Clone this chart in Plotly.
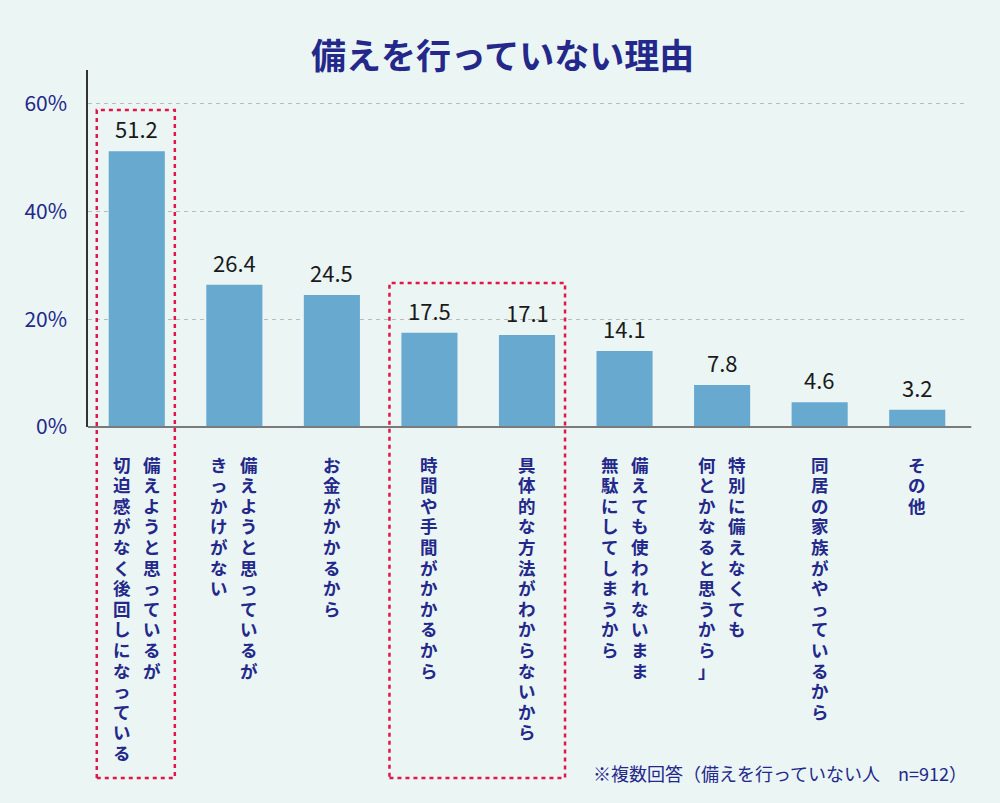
import plotly.graph_objects as go

# ---- data ----
title = "備えを行っていない理由"
label_lines = [
    ["備えようと思っているが", "切迫感がなく後回しになっている"],
    ["備えようと思っているが", "きっかけがない"],
    ["お金がかかるから"],
    ["時間や手間がかかるから"],
    ["具体的な方法がわからないから"],
    ["備えても使われないまま", "無駄にしてしまうから"],
    ["特別に備えなくても", "何とかなると思うから」"],
    ["同居の家族がやっているから"],
    ["その他"],
]
values = [51.2, 26.4, 24.5, 17.5, 17.1, 14.1, 7.8, 4.6, 3.2]
tick_vals = [0, 20, 40, 60]
tick_text = ["0%", "20%", "40%", "60%"]
footnote = "※複数回答（備えを行っていない人　n=912）"
highlight_groups = [[0], [3, 4]]

categories = ["".join(l) for l in label_lines]

# ---- style ----
BG = "#eaf5f4"
NAVY = "#23288a"
BAR = "#68a9d0"
RED = "#e0174a"
FONT = "Noto Sans CJK JP"
PLOT_TOP, PLOT_BOTTOM = 70, 427
PLOT_H = PLOT_BOTTOM - PLOT_TOP
BOX_TOPS_PX = [110, 283]      # top edge of highlight boxes (px)
BOX_BOTTOM_PX = 778
CHAR_STEP = 20.6              # vertical text character pitch (px)
FIRST_CHAR_OFFSET = 37        # px below the baseline to first char center
COL_GAP = 30

def py_to_paper(py):
    return (PLOT_BOTTOM - py) / PLOT_H

fig = go.Figure()
fig.add_trace(go.Bar(
    x=categories, y=values, marker=dict(color=BAR, line=dict(width=0)),
    width=0.575, hoverinfo="skip", showlegend=False,
))

annotations = []
# value labels
for c, v in zip(categories, values):
    annotations.append(dict(
        x=c, y=v, xref="x", yref="y", text=f"{v:.1f}", showarrow=False,
        yanchor="middle", yshift=23,
        font=dict(family=FONT, size=22, color="#1a1a1a"),
    ))

# vertical category labels (right column first), one character per annotation
for i, lines in enumerate(label_lines):
    n = len(lines)
    for j, line in enumerate(lines):
        offset = (n - 1) / 2 * COL_GAP - j * COL_GAP
        for k, ch in enumerate(line):
            annotations.append(dict(
                x=i, y=0, xref="x", yref="paper", xshift=offset,
                yshift=-(FIRST_CHAR_OFFSET + CHAR_STEP * k),
                text=ch, showarrow=False, borderpad=0,
                xanchor="center", yanchor="middle", align="center",
                font=dict(family=FONT, size=17.5, color=NAVY, weight="bold"),
            ))

# title
annotations.append(dict(
    x=0.4725, y=1.0, xref="paper", yref="paper", yshift=PLOT_TOP - 53,
    text=f"<b>{title}</b>", showarrow=False, xanchor="center", yanchor="middle",
    font=dict(family=FONT, size=35, color=NAVY),
))
# footnote
annotations.append(dict(
    x=1.0, y=0, xref="paper", yref="paper", xshift=3, yshift=PLOT_BOTTOM - 773,
    text=footnote, showarrow=False, xanchor="right", yanchor="middle",
    font=dict(family=FONT, size=18, color=NAVY),
))

shapes = []
# baseline
shapes.append(dict(type="line", xref="paper", yref="paper", x0=0, x1=1.006,
                   y0=0, y1=0, line=dict(color="#7a7a7a", width=2), layer="above"))
# highlight boxes
for g, top_px in zip(highlight_groups, BOX_TOPS_PX):
    shapes.append(dict(
        type="rect", xref="x", yref="paper",
        x0=min(g) - 0.41, x1=max(g) + 0.39,
        y0=py_to_paper(BOX_BOTTOM_PX), y1=py_to_paper(top_px),
        line=dict(color=RED, width=2.5, dash="4px,4px"), fillcolor="rgba(0,0,0,0)",
        layer="above",
    ))

fig.update_layout(
    width=1000, height=803,
    paper_bgcolor=BG, plot_bgcolor=BG,
    margin=dict(l=88, r=34, t=PLOT_TOP, b=803 - PLOT_BOTTOM),
    annotations=annotations, shapes=shapes,
    bargap=0.4,
    font=dict(family=FONT),
    xaxis=dict(showticklabels=False, showgrid=False, zeroline=False,
               showline=False, ticks="", range=[-0.5, 8.5], fixedrange=True),
    yaxis=dict(range=[0, 66.3], tickvals=tick_vals, ticktext=tick_text,
               showgrid=True, gridcolor="#b8bcbc", griddash="4px,4px", gridwidth=1,
               zeroline=False, showline=True, linecolor="#333333", linewidth=1.5,
               ticks="", ticklabelstandoff=15,
               tickfont=dict(family=FONT, size=21, color=NAVY), fixedrange=True),
)

fig.write_html(
    "out.html",
    config={"displayModeBar": False},
    post_script="document.body.style.margin='0';document.body.style.background='%s';" % BG,
)
